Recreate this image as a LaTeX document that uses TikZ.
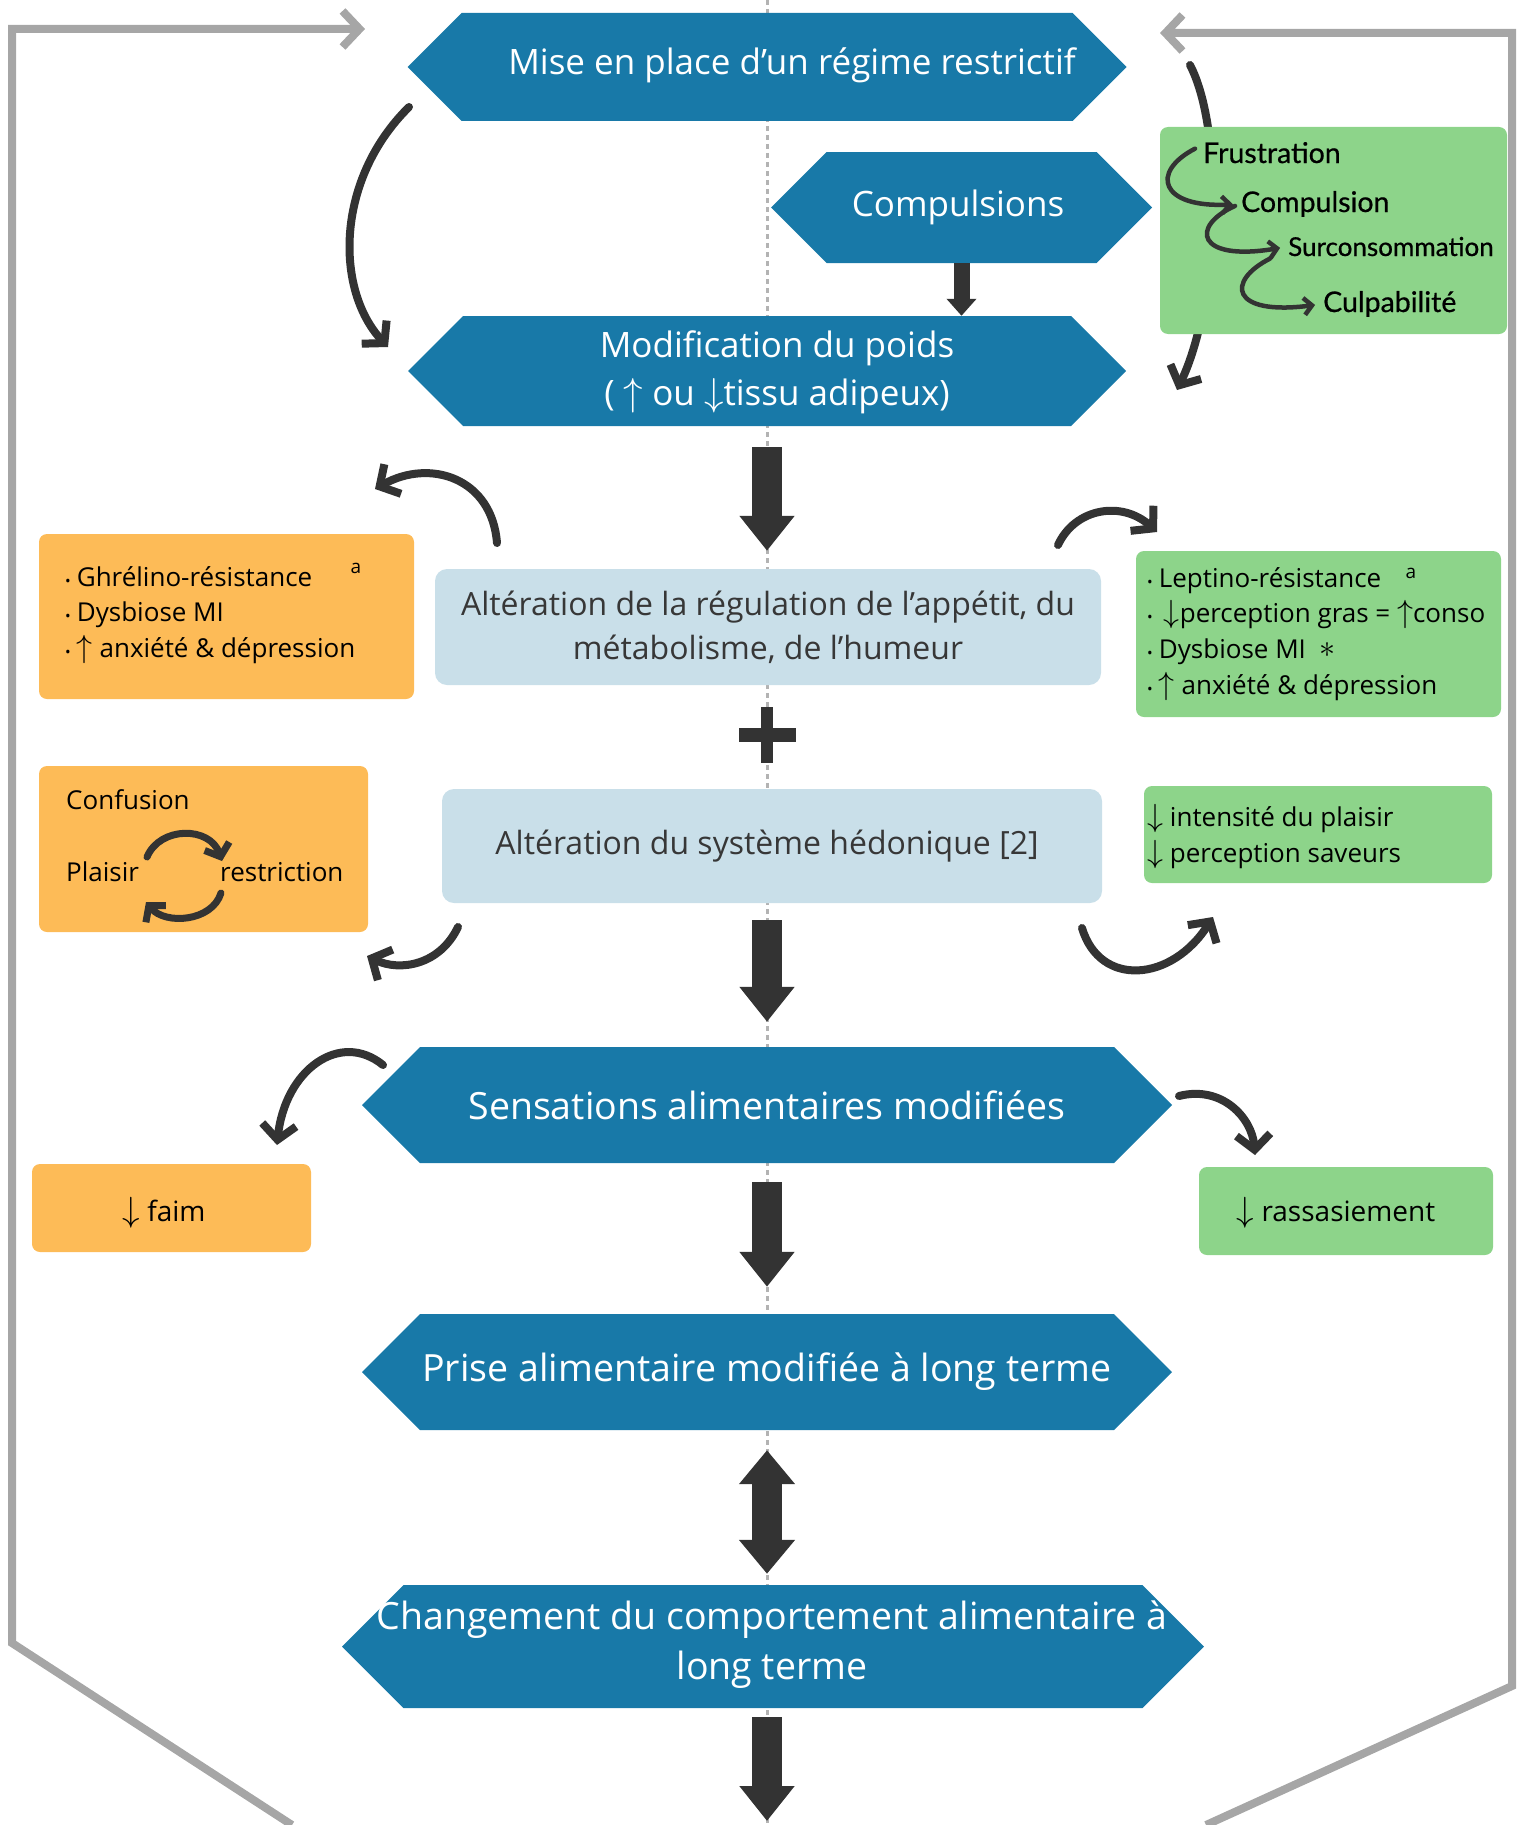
\documentclass[tikz,border=0pt]{standalone}
\usepackage{fontspec}
\setmainfont{Open Sans}
\newfontfamily\latofont{Lato}[FakeBold=0.6]
\usetikzlibrary{arrows.meta,shapes.symbols}
\definecolor{hexblue}{RGB}{24,121,168}
\definecolor{altblue}{RGB}{201,223,233}
\definecolor{orangebox}{RGB}{253,187,87}
\definecolor{greenbox}{RGB}{141,212,138}
\definecolor{darkarrow}{RGB}{51,51,51}
\definecolor{framegray}{RGB}{166,166,166}
\definecolor{txtgray}{RGB}{55,55,55}
\newcommand\bul{{\fontsize{15}{15}\selectfont\textbullet}\hspace{6pt}}
\newcommand\upa[1][3.2]{{\fontsize{10}{12}\selectfont\scalebox{#1}{$\uparrow$}}}
\newcommand\dna[1][3.2]{{\fontsize{10}{12}\selectfont\scalebox{#1}{$\downarrow$}}}
\begin{document}
\begin{tikzpicture}[x=1pt,y=-1pt,
  hex/.style={signal, signal to=west and east, signal pointer angle=90, fill=hexblue, draw=none, inner sep=0pt},
  hextxt/.style={text=white, font=\fontsize{35}{48}\selectfont, align=center, inner sep=0pt},
  hextxtb/.style={text=white, font=\fontsize{37.5}{50}\selectfont, align=center, inner sep=0pt},
  altbox/.style={fill=altblue, rounded corners=12pt, inner sep=0pt, text=txtgray, align=center, font=\fontsize{32}{44}\selectfont},
  obox/.style={fill=orangebox, rounded corners=8pt, inner sep=0pt},
  gbox/.style={fill=greenbox, rounded corners=8pt, inner sep=0pt},
  listtxt/.style={anchor=base west, inner sep=0pt, text=black, font=\fontsize{26}{30}\selectfont},
  chaintxt/.style={anchor=base west, inner sep=0pt, text=black, font=\latofont\fontsize{28.5}{30}\selectfont},
  supa/.style={inner sep=0pt, text=black, font=\fontsize{19}{20}\selectfont},
  blockarrow/.style={draw=darkarrow, line width=30pt, -{Triangle[length=35pt,width=53pt]}},
  dblarrow/.style={draw=darkarrow, line width=30pt, {Triangle[length=34pt,width=54pt]}-{Triangle[length=34pt,width=54pt]}},
  smallblock/.style={draw=darkarrow, line width=16pt, -{Triangle[length=17pt,width=29pt]}},
  brush/.style={draw=darkarrow, line width=8pt, line cap=round, -{Straight Barb[length=15pt,width=34pt]}},
  thinbrush/.style={draw=darkarrow, line width=4.5pt, line cap=round, shorten >=8pt, -{Straight Barb[length=8pt,width=17pt]}},
  frameline/.style={draw=framegray, line width=8pt, -{Straight Barb[length=17pt,width=36pt]}},
  dotline/.style={draw=framegray!85, line width=3pt, dash pattern=on 5pt off 4pt},
]
\useasboundingbox (0,0) rectangle (1525,1825);

% central dotted line
\coordinate (dtop) at (767,0);
\coordinate (dbot) at (767,1825);
\draw[dotline] (dtop) -- (dbot);

% grey frame loops
\coordinate (lfb) at (292,1825); \coordinate (lfc) at (12,1643);
\coordinate (lft) at (12,29);    \coordinate (lfe) at (365,29);
\draw[frameline] (lfb) -- (lfc) -- (lft) -- (lfe);
\coordinate (rfb) at (1206,1825); \coordinate (rfc) at (1512,1686);
\coordinate (rft) at (1512,33);   \coordinate (rfe) at (1160,33);
\draw[frameline] (rfb) -- (rfc) -- (rft) -- (rfe);

% right big curve (behind green box)
\coordinate (c2s) at (1190,65); \coordinate (c2e) at (1177,390);
\draw[brush] (c2s) .. controls (1224,130) and (1220,300) .. (c2e);

% hexagons
\node[hex, minimum width=719pt, minimum height=108pt] (mise) at (767,67) {};
\node[hextxt] (misetxt) at (792,65) {Mise en place d'un régime restrictif};
\node[hex, minimum width=381pt, minimum height=111pt] (comp) at (961.5,207.5) {};
\node[hextxt] (comptxt) at (958,207) {Compulsions};
\node[hex, minimum width=718pt, minimum height=110pt] (modif) at (767,371) {};
\node[hextxt] (modiftxt) at (777,372) {Modification du poids\\( \upa[3.9] ou \dna[3.9]tissu adipeux)};
\node[hex, minimum width=810pt, minimum height=116pt] (sens) at (767,1105) {};
\node[hextxtb] (senstxt) at (767,1105) {Sensations alimentaires modifiées};
\node[hex, minimum width=810pt, minimum height=116pt] (prise) at (767,1372) {};
\node[hextxtb] (prisetxt) at (767,1372) {Prise alimentaire modifiée à long terme};
\node[hex, minimum width=862pt, minimum height=123pt] (chg) at (773,1646.5) {};
\node[hextxtb] (chgtxt) at (772,1645) {Changement du comportement alimentaire à\\long terme};

% light blue boxes
\node[altbox, minimum width=666pt, minimum height=116pt] (alt1) at (768,627) {Altération de la régulation de l'appétit, du\\métabolisme, de l'humeur};
\node[altbox, minimum width=660pt, minimum height=114pt] (alt2) at (772,846) {\hspace*{-10pt}Altération du système hédonique [2]};

% side boxes
\node[gbox, minimum width=347pt, minimum height=207pt] (g1) at (1333.5,230.5) {};
\node[obox, minimum width=375pt, minimum height=165pt] (o1) at (226.5,616.5) {};
\node[gbox, minimum width=365pt, minimum height=166pt] (g2) at (1318.5,634) {};
\node[obox, minimum width=329pt, minimum height=166pt] (o2) at (203.5,849) {};
\node[gbox, minimum width=348pt, minimum height=97pt] (g3) at (1318,834.5) {};
\node[obox, minimum width=279pt, minimum height=88pt] (faim) at (171.5,1208) {};
\node[gbox, minimum width=294pt, minimum height=88pt] (rass) at (1346,1211) {};

% green chain text
\node[chaintxt] (frus) at (1203,163) {Frustration};
\node[chaintxt] (compu) at (1241,212) {Compulsion};
\node[chaintxt, font=\latofont\fontsize{26}{28}\selectfont] (surc) at (1288,256) {Surconsommation};
\node[chaintxt] (culp) at (1323,312) {Culpabilité};
\draw[thinbrush] (frus.west) ++(-8,-4) .. controls (1150,172) and (1160,208) .. (compu.west);
\draw[thinbrush] (compu.west) ++(-6,2) .. controls (1190,226) and (1196,262) .. (surc.west);
\draw[thinbrush] (surc.west) ++(-18,12) .. controls (1226,281) and (1230,316) .. (culp.west);

% orange box 1 text
\node[listtxt] (o1a) at (65,586) {\bul Ghrélino-résistance};
\node[supa] (o1sup) at (356,568) {a};
\node[listtxt] (o1b) at (65,621) {\bul Dysbiose MI};
\node[listtxt] (o1c) at (65,657) {\bul\upa{} anxiété \& dépression};

% green box 2 text
\node[listtxt] (g2a) at (1147,587) {\bul Leptino-résistance};
\node[supa] (g2sup) at (1411,573) {a};
\node[listtxt] (g2b) at (1147,622) {\bul\hspace{5pt}\dna{}perception gras = \upa{}conso};
\node[listtxt] (g2c) at (1147,658) {\bul Dysbiose MI};
\node[inner sep=0pt, text=black] (ast) at (1327,650) {{\fontsize{10}{12}\selectfont\scalebox{3.2}{$\ast$}}};
\node[listtxt] (g2d) at (1147,694) {\bul\upa{} anxiété \& dépression};

% orange box 2 text
\node[listtxt] (conf) at (66,809) {Confusion};
\node[listtxt] (plai) at (66,881) {Plaisir};
\node[listtxt] (restr) at (220,881) {restriction};
\coordinate (cy1) at (147,857); \coordinate (cy2) at (222,861);
\coordinate (cy3) at (221,893); \coordinate (cy4) at (146,902);
\draw[brush, line width=7pt, -{Straight Barb[length=11pt,width=26pt]}] (cy1) .. controls (160,826) and (210,826) .. (cy2);
\draw[brush, line width=7pt, -{Straight Barb[length=11pt,width=26pt]}] (cy3) .. controls (212,922) and (165,925) .. (cy4);

% green box 3 text
\node[listtxt] (g3a) at (1147,826) {\dna{} intensité du plaisir};
\node[listtxt] (g3b) at (1147,862) {\dna{} perception saveurs};

% faim / rassasiement
\node[inner sep=0pt, text=black, font=\fontsize{28}{30}\selectfont] (faimtxt) at (164,1213) {\dna[3.5] faim};
\node[inner sep=0pt, text=black, font=\fontsize{28}{30}\selectfont] (rasstxt) at (1336,1213) {\dna[3.5] rassasiement};

% plus sign
\coordinate (plus) at (767,735);
\fill[darkarrow] (761,707) rectangle (773,763);
\fill[darkarrow] (739,728) rectangle (796,742);

% block arrows
\draw[smallblock] (comp.south) -- (comp.south |- modif.north);
\draw[blockarrow, shorten <=21pt, shorten >=18pt] (modif.south) -- (modif.south |- alt1.north);
\draw[blockarrow, shorten <=17pt, shorten >=25pt] (sens.north |- alt2.south) -- (sens.north);
\draw[blockarrow, shorten <=19pt, shorten >=27pt] (sens.south) -- (prise.north);
\draw[dblarrow, shorten <=20pt, shorten >=11pt] (prise.south) -- (prise.south |- chg.north);
\coordinate (endc) at (767,1821);
\draw[blockarrow, shorten <=9pt] (endc |- chg.south) -- (endc);

% curved brush arrows
\coordinate (c1s) at (409,107); \coordinate (c1e) at (388,347);
\draw[brush] (c1s) .. controls (335,180) and (335,290) .. (c1e);
\coordinate (a1s) at (497,543); \coordinate (a1e) at (375,489);
\draw[brush] (a1s) .. controls (492,478) and (430,458) .. (a1e);
\coordinate (a2s) at (1058,545); \coordinate (a2e) at (1157,532);
\draw[brush] (a2s) .. controls (1075,508) and (1122,500) .. (a2e);
\coordinate (a3s) at (458,927); \coordinate (a3e) at (367,956);
\draw[brush] (a3s) .. controls (440,965) and (400,972) .. (a3e);
\coordinate (a4s) at (1082,928); \coordinate (a4e) at (1213,917);
\draw[brush] (a4s) .. controls (1100,988) and (1172,982) .. (a4e);
\coordinate (a5s) at (383,1065); \coordinate (a5e) at (277,1145);
\draw[brush] (a5s) .. controls (340,1030) and (285,1070) .. (a5e);
\coordinate (a6s) at (1179,1096); \coordinate (a6e) at (1255,1155);
\draw[brush] (a6s) .. controls (1222,1085) and (1252,1118) .. (a6e);
\end{tikzpicture}
\end{document}
